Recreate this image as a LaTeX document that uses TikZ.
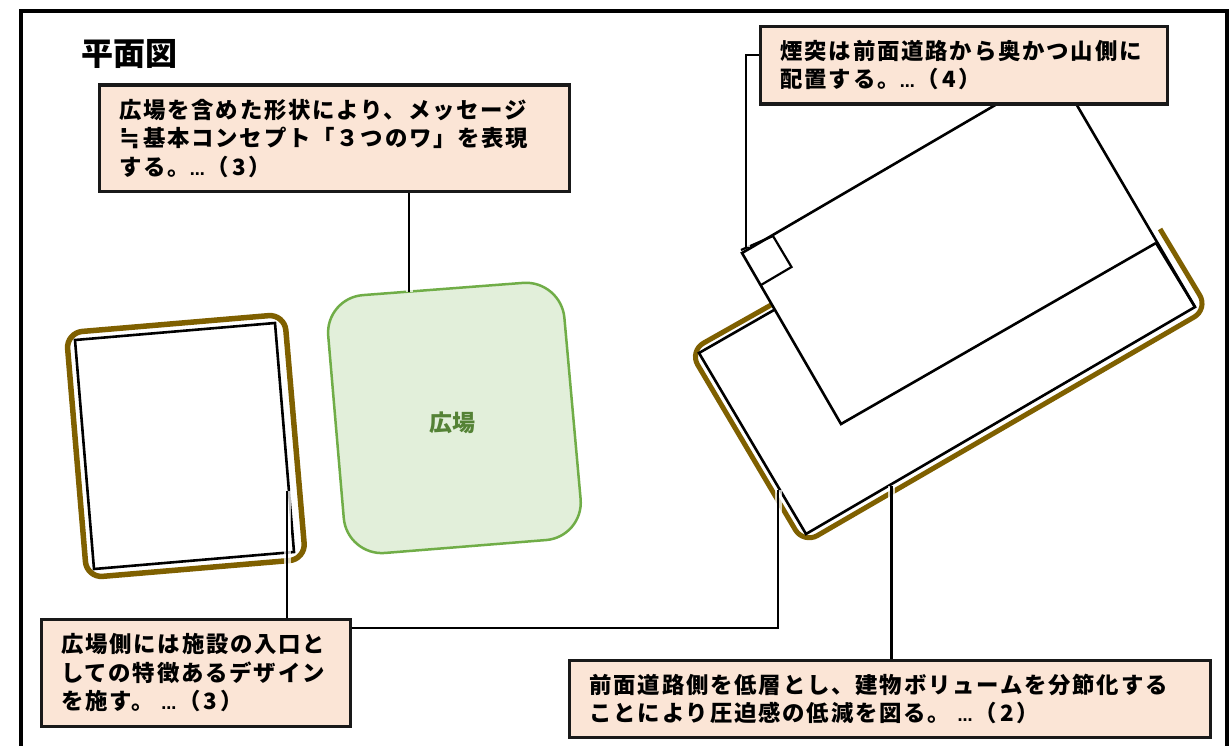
\documentclass[tikz,border=0pt]{standalone}
\usepackage{fontspec}
\setmainfont{Noto Sans CJK JP}
\newfontfamily\jpb[LetterSpace=8]{Noto Sans CJK JP}
\newfontfamily\dvs{DejaVu Sans}
\definecolor{brownln}{HTML}{7F6000}
\definecolor{boxfill}{HTML}{FBE5D6}
\definecolor{grnfill}{HTML}{E2EFDA}
\definecolor{grnln}{HTML}{70AD47}
\definecolor{grntxt}{HTML}{548235}
\newcommand{\eli}{{\dvs\bfseries\fontsize{15}{15}\selectfont …}\kern2pt}
\newcommand{\nearlyeq}{\makebox[24pt][l]{\dvs\bfseries\fontsize{25}{25}\selectfont ≒}}
\newcommand{\dig}[1]{\kern3pt#1\kern3pt}
\tikzset{
  notebox/.style={draw=black!90,line width=3.2pt,fill=boxfill,anchor=north west,align=left,inner xsep=20pt,inner ysep=0pt,
    font=\jpb\bfseries\fontsize{22.4}{28.3}\selectfont},
  plan/.style={draw=black,line width=2.6pt,line join=miter},
  wall/.style={draw=brownln,line width=5pt,rounded corners=16pt},
  leader/.style={draw=black,line width=2.8pt,preaction={draw=white,line width=7pt,opacity=.75}}
}
\begin{document}
\begin{tikzpicture}[x=1pt,y=-1pt]
\useasboundingbox (0,0) rectangle (1231,746);
\fill[white] (0,0) rectangle (1231,746);
\draw[line width=4.5pt,line join=miter] (21,760) -- (21,11) -- (1227,11) -- (1227,760);

% coordinates
\coordinate (bl) at (699,353);
\coordinate (bb) at (806,534);
\coordinate (br) at (1195,307);
\coordinate (ul) at (742,253);
\coordinate (uc) at (841,424);
\coordinate (um) at (1156,243);
\coordinate (ut) at (1021,90);
\coordinate (ur) at (1068,90);
\coordinate (aend) at (409,292);
\coordinate (dend) at (287,491);
\coordinate (eend) at (778,490);
\coordinate (cend) at (891.5,486);
\coordinate (bend) at (746,247);

% left building
\draw[wall,line width=5.5pt] (66.3,332.8) -- (284.5,314.3) -- (305.5,559.2) -- (86.8,577.7) -- cycle;
\draw[plan] (75,340) -- (275,323) -- (294,552) -- (94,569) -- cycle;

% plaza
\draw[draw=grnln,fill=grnfill,line width=2.5pt,rounded corners=38pt] (325,298) -- (561,280) -- (584,537) -- (347,556) -- cycle;
\node[text=grntxt,font=\bfseries\fontsize{23}{26}\selectfont] (plaza) at (452,423) {広場};

% right building
\draw[wall] (771,305) -- (689.5,351) -- (803.5,543.6) -- (1208,309) -- (1160,229);
\draw[plan] (774,310) -- (bl) -- (bb) -- (br) -- (um);
\draw[plan] (um) -- (uc) -- (ul) -- (ut);
\draw[plan] (ur) -- (br);
\draw[plan,line width=2.2pt] (741,250) -- (773,236) -- (791.5,267) -- (761,285);

% note boxes
\node[notebox,text width=430pt,minimum height=106.5pt] (a) at (97.5,83.5) {広場を含めた形状により、メッセージ\\\nearlyeq 基本コンセプト「３つのワ」を表現\\する。\eli（\dig{3}）};
\node[notebox,text width=367pt,minimum height=77.5pt] (b) at (759,25) {煙突は前面道路から奥かつ山側に\\配置する。\eli（\dig{4}）};
\node[notebox,text width=601pt,minimum height=77pt] (c) at (568,659) {前面道路側を低層とし、建物ボリュームを分節化する\\ことにより圧迫感の低減を図る。 \eli（\dig{2}）};
\node[notebox,text width=269pt,minimum height=107.5pt] (d) at (39.5,617.5) {広場側には施設の入口と\\しての特徴あるデザイン\\を施す。 \eli（\dig{3}）};

% title
\node[anchor=west,inner sep=0pt,font=\bfseries\fontsize{32}{36}\selectfont] (title) at (81,54) {平面図};

% leaders
\draw[leader] (a.south -| aend) -- (aend);
\draw[leader] (b.west |- 0,55) -- (bend |- 0,55) -- (bend);
\draw[leader] (c.north -| cend) -- (cend);
\draw[leader] (d.north -| dend) -- (dend);
\draw[leader] (d.east |- 0,628) -- (eend |- 0,628) -- (eend);
\end{tikzpicture}
\end{document}
